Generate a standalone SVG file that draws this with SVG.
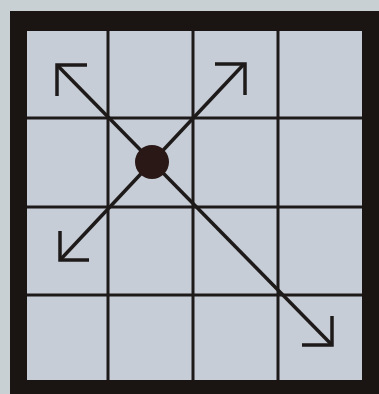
<svg xmlns="http://www.w3.org/2000/svg" width="379" height="394" viewBox="0 0 379 394">
  <style>
    .grid { stroke: #1e1a1a; stroke-width: 3; fill: none; }
    .arrow { stroke: #1e1a1a; stroke-width: 3.5; fill: none; stroke-linecap: butt; stroke-linejoin: miter; }
  </style>
  <rect x="0" y="0" width="379" height="394" fill="#c9d0d3"/>
  <g id="board">
    <rect x="10" y="11" width="369" height="383" fill="#1a1413"/>
    <rect x="27" y="31" width="335" height="349" fill="#c6cdd6"/>
  </g>
  <g id="grid-lines" class="grid">
    <line x1="108" y1="31" x2="108" y2="380"/>
    <line x1="193" y1="31" x2="193" y2="380"/>
    <line x1="278" y1="31" x2="278" y2="380"/>
    <line x1="27" y1="118" x2="362" y2="118"/>
    <line x1="27" y1="207" x2="362" y2="207"/>
    <line x1="27" y1="295" x2="362" y2="295"/>
  </g>
  <g id="connectors" class="arrow">
    <line x1="58" y1="66" x2="332" y2="345"/>
    <line x1="244" y1="64" x2="61" y2="259"/>
    <polyline points="87,65 57,65 57,96"/>
    <polyline points="215,64 245,64 245,95"/>
    <polyline points="60,231 60,260 89,260"/>
    <polyline points="332,316 332,345 302,345"/>
  </g>
  <g id="dot">
    <circle cx="152" cy="162" r="17" fill="#2a1816"/>
  </g>
</svg>
